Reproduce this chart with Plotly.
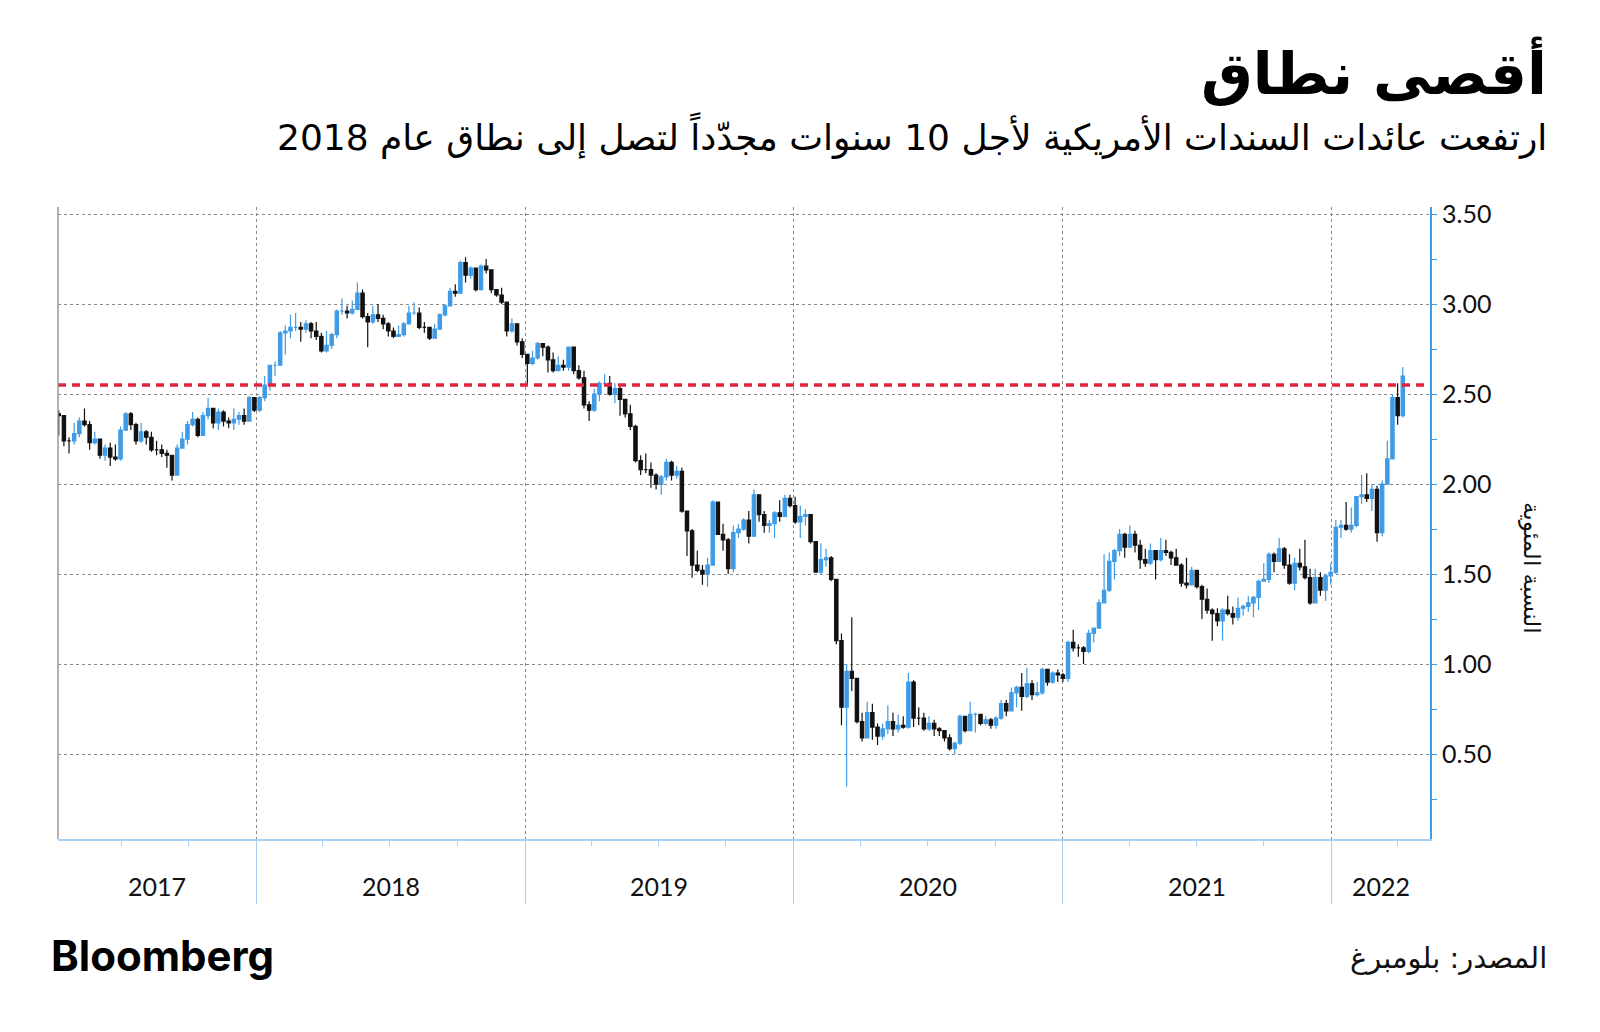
import pandas as pd
import plotly.graph_objects as go

# ---------------- data (weekly, Friday closes of US 10y yield, %) ----------------
week_start = "2017-04-07"
first_open = 2.39

close_2017 = [2.38, 2.24, 2.24, 2.28, 2.35, 2.33, 2.23, 2.25, 2.16, 2.20, 2.15, 2.14, 2.30,
              2.39, 2.33, 2.24, 2.29, 2.26, 2.19, 2.19, 2.17, 2.16, 2.05, 2.20, 2.25, 2.33,
              2.36, 2.27, 2.38, 2.42, 2.34, 2.40, 2.35, 2.34, 2.36, 2.38, 2.35, 2.48, 2.41]
high_2017 = [2.41, 2.38, 2.26, 2.34, 2.37, 2.42, 2.35, 2.29, 2.24, 2.22, 2.23, 2.22, 2.32,
             2.40, 2.40, 2.34, 2.34, 2.30, 2.29, 2.24, 2.22, 2.19, 2.16, 2.22, 2.29, 2.35,
             2.40, 2.37, 2.40, 2.48, 2.42, 2.42, 2.41, 2.37, 2.42, 2.40, 2.42, 2.49, 2.48]
low_2017 = [2.27, 2.21, 2.17, 2.22, 2.26, 2.32, 2.19, 2.22, 2.14, 2.13, 2.10, 2.13, 2.13,
            2.30, 2.30, 2.22, 2.23, 2.22, 2.18, 2.16, 2.15, 2.09, 2.02, 2.05, 2.20, 2.22,
            2.32, 2.26, 2.28, 2.36, 2.31, 2.30, 2.32, 2.31, 2.30, 2.33, 2.33, 2.35, 2.40]

close_2018 = [2.48, 2.55, 2.66, 2.66, 2.84, 2.85, 2.87, 2.87, 2.86, 2.89, 2.85, 2.82, 2.74,
              2.77, 2.83, 2.96, 2.96, 2.95, 2.97, 3.06, 2.93, 2.90, 2.94, 2.92, 2.89, 2.85,
              2.82, 2.83, 2.89, 2.95, 2.95, 2.87, 2.87, 2.81, 2.86, 2.94, 2.99, 3.07, 3.06,
              3.23, 3.16, 3.20, 3.08, 3.21, 3.19, 3.08, 3.05, 3.01, 2.85, 2.89, 2.79, 2.72]
high_2018 = [2.49, 2.60, 2.66, 2.68, 2.85, 2.88, 2.94, 2.95, 2.90, 2.91, 2.90, 2.90, 2.84,
             2.85, 2.84, 2.97, 3.03, 2.99, 3.02, 3.12, 3.08, 2.95, 2.99, 3.00, 2.94, 2.90,
             2.87, 2.88, 2.90, 2.99, 3.01, 2.98, 2.90, 2.87, 2.89, 2.95, 3.00, 3.09, 3.11,
             3.24, 3.26, 3.21, 3.20, 3.22, 3.25, 3.19, 3.08, 3.09, 3.00, 2.92, 2.89, 2.81]
low_2018 = [2.40, 2.46, 2.52, 2.60, 2.66, 2.72, 2.81, 2.85, 2.79, 2.84, 2.81, 2.80, 2.73,
            2.73, 2.75, 2.81, 2.94, 2.92, 2.94, 2.98, 2.92, 2.76, 2.89, 2.90, 2.86, 2.82,
            2.81, 2.82, 2.82, 2.89, 2.94, 2.86, 2.84, 2.80, 2.81, 2.86, 2.93, 3.00, 3.04,
            3.06, 3.12, 3.14, 3.07, 3.08, 3.17, 3.06, 3.04, 3.00, 2.82, 2.84, 2.77, 2.70]

close_2019 = [2.67, 2.70, 2.78, 2.76, 2.69, 2.63, 2.66, 2.65, 2.76, 2.63, 2.59, 2.44, 2.41,
              2.50, 2.56, 2.56, 2.50, 2.53, 2.47, 2.39, 2.32, 2.13, 2.08, 2.08, 2.05, 2.00,
              2.04, 2.12, 2.05, 2.07, 1.85, 1.74, 1.55, 1.52, 1.50, 1.55, 1.90, 1.72, 1.69,
              1.53, 1.73, 1.75, 1.80, 1.71, 1.94, 1.83, 1.77, 1.78, 1.84, 1.82, 1.92, 1.88]
high_2019 = [2.72, 2.74, 2.79, 2.78, 2.77, 2.73, 2.71, 2.69, 2.76, 2.75, 2.66, 2.63, 2.46,
             2.53, 2.57, 2.61, 2.60, 2.56, 2.54, 2.47, 2.44, 2.33, 2.16, 2.17, 2.12, 2.06,
             2.05, 2.14, 2.13, 2.10, 2.09, 1.85, 1.75, 1.63, 1.55, 1.59, 1.91, 1.90, 1.78,
             1.70, 1.77, 1.78, 1.81, 1.85, 1.97, 1.94, 1.85, 1.80, 1.85, 1.91, 1.94, 1.94]
low_2019 = [2.55, 2.66, 2.69, 2.71, 2.62, 2.62, 2.63, 2.63, 2.63, 2.61, 2.58, 2.42, 2.35,
            2.40, 2.46, 2.54, 2.49, 2.45, 2.38, 2.37, 2.30, 2.12, 2.05, 2.06, 1.98, 1.97,
            1.94, 2.02, 2.02, 2.03, 1.84, 1.60, 1.48, 1.51, 1.44, 1.43, 1.55, 1.72, 1.63,
            1.50, 1.51, 1.70, 1.74, 1.67, 1.71, 1.79, 1.73, 1.73, 1.70, 1.79, 1.82, 1.87]

close_2020 = [1.79, 1.82, 1.83, 1.68, 1.51, 1.58, 1.59, 1.47, 1.13, 0.76, 0.96, 0.92, 0.68,
              0.59, 0.73, 0.65, 0.60, 0.64, 0.68, 0.64, 0.66, 0.65, 0.90, 0.70, 0.70, 0.64,
              0.67, 0.64, 0.63, 0.59, 0.53, 0.56, 0.71, 0.63, 0.72, 0.72, 0.67, 0.69, 0.66,
              0.70, 0.78, 0.74, 0.84, 0.87, 0.82, 0.89, 0.83, 0.84, 0.97, 0.90, 0.95, 0.94]
high_2020 = [1.93, 1.88, 1.86, 1.82, 1.66, 1.67, 1.64, 1.60, 1.47, 1.17, 1.00, 1.26, 0.90,
             0.73, 0.79, 0.78, 0.67, 0.67, 0.77, 0.73, 0.72, 0.71, 0.95, 0.91, 0.76, 0.73,
             0.71, 0.69, 0.65, 0.63, 0.61, 0.57, 0.72, 0.71, 0.79, 0.73, 0.72, 0.71, 0.70,
             0.71, 0.80, 0.80, 0.87, 0.88, 0.95, 0.98, 0.91, 0.90, 0.98, 0.97, 0.96, 0.97]
low_2020 = [1.78, 1.70, 1.77, 1.67, 1.51, 1.50, 1.54, 1.46, 1.11, 0.66, 0.32, 0.85, 0.67,
            0.57, 0.63, 0.58, 0.55, 0.58, 0.61, 0.60, 0.62, 0.64, 0.64, 0.65, 0.66, 0.63,
            0.63, 0.60, 0.60, 0.57, 0.52, 0.50, 0.55, 0.62, 0.63, 0.62, 0.66, 0.66, 0.64,
            0.64, 0.69, 0.71, 0.74, 0.76, 0.74, 0.81, 0.80, 0.82, 0.83, 0.88, 0.89, 0.90]

close_2021 = [0.92, 1.12, 1.09, 1.09, 1.07, 1.17, 1.20, 1.34, 1.41, 1.57, 1.63, 1.72, 1.65,
              1.72, 1.66, 1.58, 1.56, 1.63, 1.58, 1.63, 1.62, 1.59, 1.55, 1.45, 1.44, 1.52,
              1.43, 1.36, 1.30, 1.28, 1.24, 1.30, 1.28, 1.26, 1.31, 1.32, 1.34, 1.37, 1.46,
              1.47, 1.61, 1.57, 1.64, 1.55, 1.45, 1.56, 1.54, 1.48, 1.34, 1.48, 1.41, 1.49, 1.51]
high_2021 = [0.95, 1.13, 1.19, 1.11, 1.10, 1.19, 1.20, 1.36, 1.61, 1.62, 1.64, 1.75, 1.73,
             1.77, 1.74, 1.69, 1.64, 1.67, 1.63, 1.70, 1.69, 1.63, 1.64, 1.56, 1.59, 1.54,
             1.50, 1.44, 1.42, 1.31, 1.31, 1.31, 1.38, 1.32, 1.37, 1.33, 1.38, 1.38, 1.47,
             1.56, 1.62, 1.62, 1.70, 1.65, 1.61, 1.59, 1.64, 1.69, 1.53, 1.53, 1.51, 1.50, 1.56]
low_2021 = [0.90, 0.90, 1.07, 1.04, 1.00, 1.06, 1.12, 1.20, 1.34, 1.40, 1.47, 1.60, 1.59,
            1.66, 1.62, 1.53, 1.54, 1.55, 1.47, 1.57, 1.60, 1.55, 1.55, 1.43, 1.42, 1.45,
            1.42, 1.25, 1.28, 1.13, 1.21, 1.13, 1.27, 1.22, 1.24, 1.27, 1.29, 1.26, 1.30,
            1.46, 1.45, 1.51, 1.57, 1.53, 1.44, 1.41, 1.52, 1.47, 1.33, 1.39, 1.38, 1.35, 1.44]

close_2022 = [1.76, 1.77, 1.75, 1.77, 1.93, 1.94, 1.92, 1.97, 1.73, 2.00, 2.14, 2.48, 2.38, 2.60]
high_2022 = [1.80, 1.80, 1.90, 1.87, 1.93, 2.05, 2.06, 2.00, 1.99, 2.02, 2.24, 2.50, 2.56, 2.65]
low_2022 = [1.50, 1.70, 1.74, 1.73, 1.76, 1.89, 1.90, 1.85, 1.68, 1.71, 2.00, 2.14, 2.33, 2.37]

threshold = 2.55
y_ticks = [0.5, 1.0, 1.5, 2.0, 2.5, 3.0, 3.5]
y_tick_text = ["0.50", "1.00", "1.50", "2.00", "2.50", "3.00", "3.50"]
years = [2017, 2018, 2019, 2020, 2021, 2022]

title = "أقصى نطاق"
subtitle = "ارتفعت عائدات السندات الأمريكية لأجل 10 سنوات مجدّداً لتصل إلى نطاق عام 2018"
y_title = "النسبة المئوية"
source = "المصدر: بلومبرغ"

# ---------------- build ----------------
closes = close_2017 + close_2018 + close_2019 + close_2020 + close_2021 + close_2022
highs = high_2017 + high_2018 + high_2019 + high_2020 + high_2021 + high_2022
lows = low_2017 + low_2018 + low_2019 + low_2020 + low_2021 + low_2022
opens = [first_open] + closes[:-1]
dates = pd.date_range(week_start, periods=len(closes), freq="7D")

x_range = [pd.Timestamp("2017-04-06"), pd.Timestamp("2022-05-15")]

BLUE = "#3f9be6"
LIGHT_BLUE = "#a9cff3"
GRID = "#8a8a8a"

fig = go.Figure()
fig.add_trace(go.Candlestick(
    x=dates, open=opens, high=highs, low=lows, close=closes,
    increasing=dict(line=dict(color=BLUE, width=1.2), fillcolor=BLUE),
    decreasing=dict(line=dict(color="#111111", width=1.2), fillcolor="#111111"),
    whiskerwidth=0, showlegend=False, hoverinfo="skip",
))
# threshold line
fig.add_trace(go.Scatter(
    x=x_range, y=[threshold, threshold], mode="lines",
    line=dict(color="#e3233c", width=3.5, dash="8px,6px"),
    showlegend=False, hoverinfo="skip",
))
# triangle markers on the right axis
fig.add_trace(go.Scatter(
    x=[1.0045] * len(y_ticks), y=y_ticks, xaxis="x2", mode="markers",
    marker=dict(symbol="triangle-right", size=11, color=BLUE),
    cliponaxis=False, showlegend=False, hoverinfo="skip",
))

year_starts = [pd.Timestamp(f"{y}-01-01") for y in years[1:]]
quarters = [d for d in pd.date_range("2017-04-01", "2022-04-01", freq="QS") if d.month != 1]

fig.update_layout(
    width=1600, height=1032,
    margin=dict(l=50, r=178, t=199, b=201),
    paper_bgcolor="white", plot_bgcolor="white",
    boxgap=0.08,
    xaxis=dict(
        type="date", range=x_range, rangeslider=dict(visible=False),
        tickvals=year_starts, showticklabels=False,
        ticks="outside", ticklen=63, tickcolor=LIGHT_BLUE, tickwidth=1,
        showgrid=True, gridcolor=GRID, griddash="dot", gridwidth=1,
        showline=True, linecolor=LIGHT_BLUE, linewidth=1.5,
        minor=dict(tickvals=quarters, ticks="outside", ticklen=5,
                   tickcolor=LIGHT_BLUE, showgrid=False),
        zeroline=False, fixedrange=True,
    ),
    xaxis2=dict(overlaying="x", range=[0, 1], visible=False, fixedrange=True),
    yaxis=dict(
        side="right", range=[0.028, 3.539],
        tickvals=y_ticks, ticktext=y_tick_text,
        ticks="outside", ticklen=5, tickcolor="rgba(0,0,0,0)",
        tickfont=dict(family="Lato", size=25, color="#111"),
        showgrid=True, gridcolor=GRID, griddash="dot", gridwidth=1,
        showline=True, linecolor=BLUE, linewidth=2,
        minor=dict(dtick=0.25, tick0=0.25, ticks="outside", ticklen=5,
                   tickcolor=BLUE, showgrid=False),
        zeroline=False, fixedrange=True,
    ),
    font=dict(family="DejaVu Sans", color="#111"),
)

# left border
fig.add_shape(type="line", xref="paper", yref="paper", x0=0, x1=0, y0=0, y1=1,
              line=dict(color="#9a9a9a", width=1.5))

# year labels centred in visible part of each year
for y in years:
    a = max(pd.Timestamp(f"{y}-01-01"), x_range[0])
    b = min(pd.Timestamp(f"{y + 1}-01-01"), x_range[1])
    mid = a + (b - a) / 2
    fig.add_annotation(x=mid, xref="x", y=-0.0744, yref="paper", text=str(y),
                       showarrow=False, xanchor="center", yanchor="middle",
                       font=dict(family="Lato", size=25, color="#111"))

fig.add_annotation(x=1.0867, y=1.214, xref="paper", yref="paper", text=f"<b>{title}</b>",
                   showarrow=False, xanchor="right", yanchor="middle",
                   font=dict(family="DejaVu Sans", size=58, color="#000"))
fig.add_annotation(x=1.0867, y=1.113, xref="paper", yref="paper", text=subtitle,
                   showarrow=False, xanchor="right", yanchor="middle",
                   font=dict(family="DejaVu Sans", size=36, color="#000"))
fig.add_annotation(x=1.0736, y=0.4288, xref="paper", yref="paper", text=y_title,
                   showarrow=False, xanchor="center", yanchor="middle", textangle=90,
                   font=dict(family="DejaVu Sans", size=23, color="#111"))
fig.add_annotation(x=-0.0065, y=-0.184, xref="paper", yref="paper", text="<b>Bloomberg</b>",
                   showarrow=False, xanchor="left", yanchor="middle",
                   font=dict(family="Inter", size=42, color="#000"))
fig.add_annotation(x=1.0867, y=-0.189, xref="paper", yref="paper", text=source,
                   showarrow=False, xanchor="right", yanchor="middle",
                   font=dict(family="DejaVu Sans", size=29, color="#111"))

fig.write_html("out.html")
